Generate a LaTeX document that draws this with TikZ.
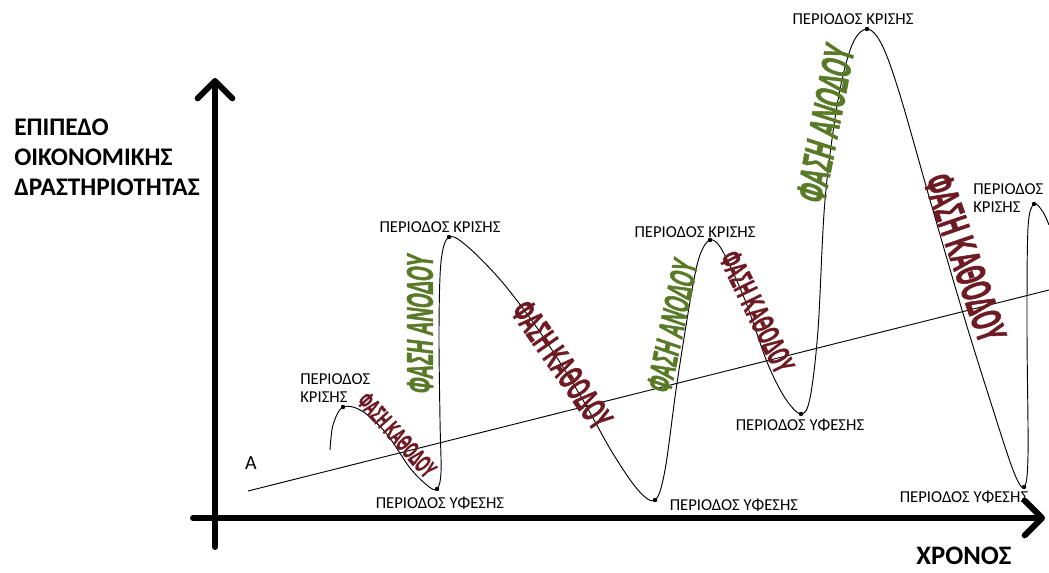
\documentclass[tikz,border=0pt]{standalone}
\usepackage{fontspec}
\setmainfont{Carlito}
\newfontfamily\upfont[FakeStretch=0.5,FakeSlant=0.12,FakeBold=1.2]{Liberation Sans}
\newfontfamily\downfont[FakeStretch=0.5,FakeBold=1.2]{Liberation Sans}
\definecolor{upcolor}{RGB}{88,122,38}
\definecolor{downcolor}{RGB}{110,26,34}
\usetikzlibrary{arrows.meta}
\tikzset{
	axis/.style={
		line width=4.5pt,
		line cap=round,
		-{Straight Barb[length=13pt,width=26pt,round]}
	},
	period/.style={
		font=\fontsize{12.5}{14}\selectfont,
		align=left,
		inner sep=0pt
	},
	uplabel/.style={
		font=\upfont\bfseries,
		text=upcolor,
		inner sep=0pt
	},
	downlabel/.style={
		font=\downfont\bfseries,
		text=downcolor,
		inner sep=0pt
	},
	dot/.style={
		fill=black
	},
}
\newcommand{\phsize}[1]{\fontsize{#1}{#1}\selectfont}

\begin{document}
\begin{tikzpicture}[x=0.75pt,y=-0.75pt]
		\useasboundingbox (0,0) rectangle (1049,573);
		% axes
		\coordinate (yfoot) at (215,547);
		\coordinate (ytip) at (215,78);
		\coordinate (xfoot) at (193,518);
		\coordinate (xtip) at (1045,518);
		\draw [axis] (yfoot) -- (ytip);
		\draw [axis] (xfoot) -- (xtip);
		\node (ylabel) [anchor=north west, align=left, inner sep=0pt, font=\bfseries\fontsize{19}{22.5}\selectfont] at (14,119) {ΕΠΙΠΕΔΟ\\ΟΙΚΟΝΟΜΙΚΗΣ\\ΔΡΑΣΤΗΡΙΟΤΗΤΑΣ};
		\node (xlabel) [font=\bfseries\fontsize{20}{21}\selectfont] at (964,556) {ΧΡΟΝΟΣ};
		% trend
		\coordinate (trendA) at (248,491);
		\coordinate (trendB) at (1049,290);
		\draw [line width=0.7pt] (trendA) -- (trendB);
		\node (A) [font=\fontsize{15}{15}\selectfont] at (251,463) {A};
		% extremes
		\coordinate (k1) at (343,407);
		\coordinate (y1) at (437,489);
		\coordinate (k2) at (449,237);
		\coordinate (y2) at (655,500);
		\coordinate (k3) at (710,240);
		\coordinate (y3) at (801,414);
		\coordinate (k4) at (867,29);
		\coordinate (y4) at (1024,487);
		\coordinate (k5) at (1034,204);
		% cycle
		\draw [line width=0.7pt] plot [smooth, tension=0.55] coordinates {
			(330,450) (333,425) (k1) (362,411) (386,433) (410,468) (428,486) (y1)
			(441,472) (440,420) (439,330) (441,262) (k2) (468,247) (503,283)
			(542,335) (580,395) (612,452) (638,490) (y2) (665,470) (677,383)
			(692,290) (700,255) (k3) (722,250) (745,300) (767,362) (785,398)
			(y3) (810,398) (818,330) (825,200) (838,100) (852,45) (k4) (882,45)
			(900,95) (930,200) (962,310) (990,400) (1013,470) (y4) (1028,455)
			(1027,330) (1028,228) (k5) (1043,212) (1049,225)};
		\foreach \p in {k1,y1,k2,y2,k3,y3,k4,y4,k5}
			\fill [dot] (\p) circle (2.2);
		% periods
		\node (pk1) [period, anchor=west] at (300,388) {ΠΕΡΙΟΔΟΣ\\ΚΡΙΣΗΣ};
		\node (pk2) [period] at (440,227) {ΠΕΡΙΟΔΟΣ ΚΡΙΣΗΣ};
		\node (pk3) [period] at (695,232) {ΠΕΡΙΟΔΟΣ ΚΡΙΣΗΣ};
		\node (pk4) [period] at (853,19) {ΠΕΡΙΟΔΟΣ ΚΡΙΣΗΣ};
		\node (pk5) [period, anchor=west] at (973,198) {ΠΕΡΙΟΔΟΣ\\ΚΡΙΣΗΣ};
		\node (py1) [period] at (440,503) {ΠΕΡΙΟΔΟΣ ΥΦΕΣΗΣ};
		\node (py2) [period] at (734,505) {ΠΕΡΙΟΔΟΣ ΥΦΕΣΗΣ};
		\node (py3) [period] at (800,425) {ΠΕΡΙΟΔΟΣ ΥΦΕΣΗΣ};
		\node (py4) [period] at (964,497) {ΠΕΡΙΟΔΟΣ ΥΦΕΣΗΣ};
		% phases
		\node (down1) [downlabel, rotate=-48] at (397,435) {\phsize{19}ΦΑΣΗ ΚΑΘΟΔΟΥ};
		\node (up1) [uplabel, rotate=90] at (420,325) {\phsize{28}ΦΑΣΗ ΑΝΟΔΟΥ};
		\node (down2) [downlabel, rotate=-55] at (562,365) {\phsize{27}ΦΑΣΗ ΚΑΘΟΔΟΥ};
		\node (up2) [uplabel, rotate=78] at (672,327) {\phsize{27}ΦΑΣΗ ΑΝΟΔΟΥ};
		\node (down3) [downlabel, rotate=-64] at (757,312) {\phsize{24}ΦΑΣΗ ΚΑΘΟΔΟΥ};
		\node (up3) [uplabel, rotate=79] at (825,125) {\phsize{32}ΦΑΣΗ ΑΝΟΔΟΥ};
		\node (down4) [downlabel, rotate=-71] at (965,258) {\phsize{32}ΦΑΣΗ ΚΑΘΟΔΟΥ};
\end{tikzpicture}
\end{document}
